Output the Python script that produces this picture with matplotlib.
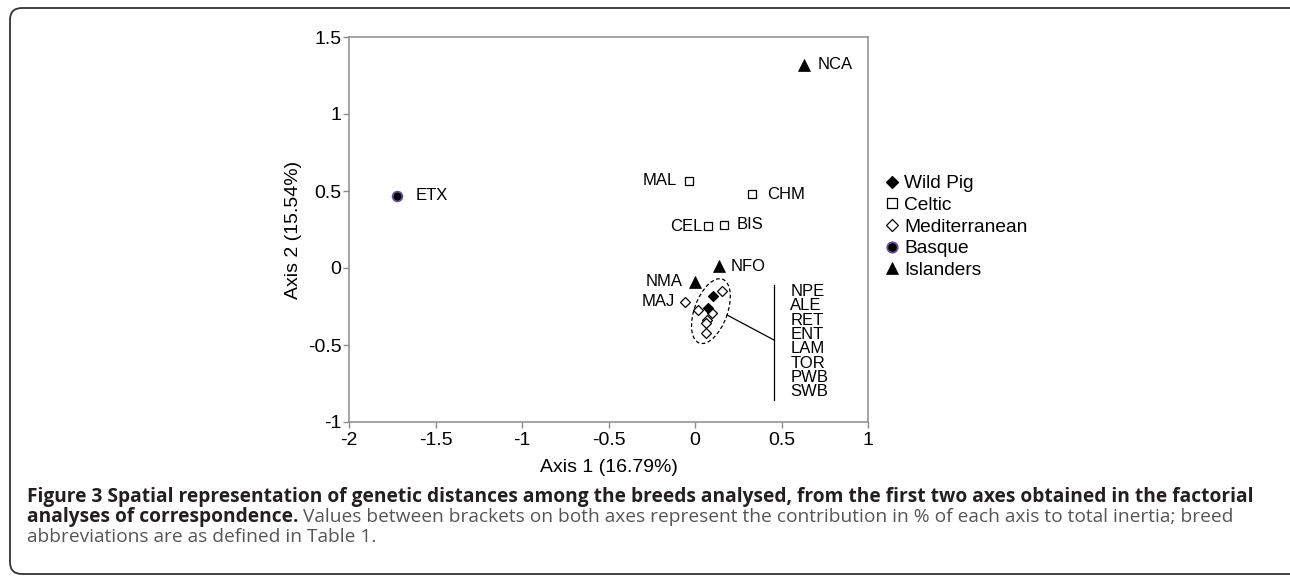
import matplotlib
matplotlib.use("Agg")
import matplotlib.pyplot as plt
from matplotlib.lines import Line2D
from matplotlib.patches import Ellipse, FancyBboxPatch
from matplotlib.transforms import ScaledTranslation, IdentityTransform

plt.rcParams['font.family'] = ['Liberation Sans', 'DejaVu Sans']
plt.rcParams['axes.unicode_minus'] = False

# labelled breeds: name, axis 1, axis 2, group
breeds = ['NCA', 'ETX', 'MAL', 'CHM', 'CEL', 'BIS', 'NFO', 'NMA', 'MAJ']
axis1 = [0.63, -1.72, -0.035, 0.33, 0.075, 0.17, 0.14, 0.0, -0.06]
axis2 = [1.32, 0.47, 0.565, 0.48, 0.27, 0.28, 0.01, -0.09, -0.22]
groups = ['Islanders', 'Basque', 'Celtic', 'Celtic', 'Celtic', 'Celtic',
          'Islanders', 'Islanders', 'Mediterranean']

# unlabelled cluster inside the ellipse
wild_x = [0.104, 0.075]
wild_y = [-0.18, -0.26]
med_x = [0.156, 0.02, 0.10, 0.07, 0.065, 0.065]
med_y = [-0.15, -0.27, -0.29, -0.34, -0.36, -0.42]
cluster_names = ['NPE', 'ALE', 'RET', 'ENT', 'LAM', 'TOR', 'PWB', 'SWB']

xticks = [-2, -1.5, -1, -0.5, 0, 0.5, 1]
xticklabels = ['-2', '-1.5', '-1', '-0.5', '0', '0.5', '1']
yticks = [-1, -0.5, 0, 0.5, 1, 1.5]
yticklabels = ['-1', '-0.5', '0', '0.5', '1', '1.5']

legend_groups = ['Wild Pig', 'Celtic', 'Mediterranean', 'Basque', 'Islanders']

# label offsets in points (dx, ha)
label_pos = {'NCA': (10, 'left'), 'ETX': (13, 'left'), 'MAL': (-9, 'right'),
             'CHM': (11, 'left'), 'CEL': (-4, 'right'), 'BIS': (9, 'left'),
             'NFO': (8, 'left'), 'NMA': (-9, 'right'), 'MAJ': (-7, 'right')}

style = {
    'Wild Pig': dict(marker='D', ms=4.8, mfc='black', mec='black', mew=0.9),
    'Celtic': dict(marker='s', ms=5.2, mfc='white', mec='black', mew=0.9),
    'Mediterranean': dict(marker='D', ms=4.8, mfc='white', mec='black', mew=0.9),
    'Basque': dict(marker='o', ms=7, mfc='black', mec='#6b4f9a', mew=1.3),
    'Islanders': dict(marker='^', ms=9, mfc='black', mec='black', mew=0.5),
}

fig = plt.figure(figsize=(12.9, 5.79), dpi=100)
ax = fig.add_axes([349 / 1290, 1 - 422 / 579, 519 / 1290, 385 / 579])

for name, x, y, g in zip(breeds, axis1, axis2, groups):
    ax.plot(x, y, ls='none', **style[g])
    dx, ha = label_pos[name]
    ax.annotate(name, (x, y), xytext=(dx, 0), textcoords='offset points',
                ha=ha, va='center', fontsize=12)

ax.plot(med_x, med_y, ls='none', **style['Mediterranean'])
ax.plot(wild_x, wild_y, ls='none', **style['Wild Pig'])

ax.set_xlim(-2, 1)
ax.set_ylim(-1, 1.5)

# dashed ellipse round the cluster, sized in inches around its data centre
trans = fig.dpi_scale_trans + ScaledTranslation(0.092, -0.28, ax.transData)
ax.add_patch(Ellipse((0, 0), width=0.68, height=0.33, angle=70, fill=False,
                     ls=(0, (3, 2)), lw=0.9, color='black', transform=trans))
ax.plot([0.185, 0.457], [-0.305, -0.468], color='black', lw=0.9)
ax.plot([0.457, 0.457], [-0.11, -0.857], color='black', lw=0.9)
ax.text(0.55, -0.105, '\n'.join(cluster_names), ha='left', va='top',
        fontsize=12, linespacing=0.94)

ax.set_xticks(xticks)
ax.set_xticklabels(xticklabels)
ax.set_yticks(yticks)
ax.set_yticklabels(yticklabels)
ax.tick_params(direction='out', length=4.5, width=1, color='#8c8c8c',
               labelsize=14, labelcolor='black')
ax.tick_params(axis='y', pad=1)
ax.tick_params(axis='x', pad=3)
for sp in ax.spines.values():
    sp.set_color('#8c8c8c')
    sp.set_linewidth(1.1)

ax.set_xlabel('Axis 1 (16.79%)', fontsize=14, va='center')
ax.xaxis.set_label_coords(0.5, -0.119)
ax.set_ylabel('Axis 2 (15.54%)', fontsize=14, va='center')
ax.yaxis.set_label_coords(-0.107, 0.5)

handles = []
for g in legend_groups:
    st = dict(style[g])
    st['ms'] = {'Wild Pig': 6.5, 'Celtic': 6.5, 'Mediterranean': 6.5,
                'Basque': 7.5, 'Islanders': 9}[g]
    handles.append(Line2D([], [], ls='none', **st))
fig.legend(handles, legend_groups, loc='upper left',
           bbox_to_anchor=(884 / 1290, 1 - 175 / 579), frameon=False,
           fontsize=13.8, handlelength=0.8, handletextpad=0.25,
           labelspacing=0.22, borderaxespad=0, borderpad=0)

# caption
cap_font = ['Open Sans', 'DejaVu Sans']
cap_size = 13.8
fig.text(27 / 1290, 1 - 497 / 579,
         'Figure 3 Spatial representation of genetic distances among the breeds '
         'analysed, from the first two axes obtained in the factorial',
         family=cap_font, fontweight='bold', fontsize=cap_size, color='#231f20',
         va='center', ha='left')
b2 = fig.text(27 / 1290, 1 - 517 / 579, 'analyses of correspondence.',
              family=cap_font, fontweight='bold', fontsize=cap_size,
              color='#231f20', va='center', ha='left')
fig.canvas.draw()
bb = b2.get_window_extent()
fig.text(bb.x1 / 1290, 1 - 517 / 579,
         ' Values between brackets on both axes represent the contribution '
         'in % of each axis to total inertia; breed',
         family=cap_font, fontsize=cap_size, color='#555555', va='center',
         ha='left')
fig.text(27 / 1290, 1 - 537 / 579, 'abbreviations are as defined in Table 1.',
         family=cap_font, fontsize=cap_size, color='#555555', va='center',
         ha='left')

# rounded frame round the whole figure
fig.patches.append(FancyBboxPatch((10, 579 - 574), 1300, 566,
                                  boxstyle='round,pad=0,rounding_size=12',
                                  fill=False, ec='#333333', lw=1.3,
                                  transform=IdentityTransform(), figure=fig))

fig.savefig('out.png', dpi=100)
